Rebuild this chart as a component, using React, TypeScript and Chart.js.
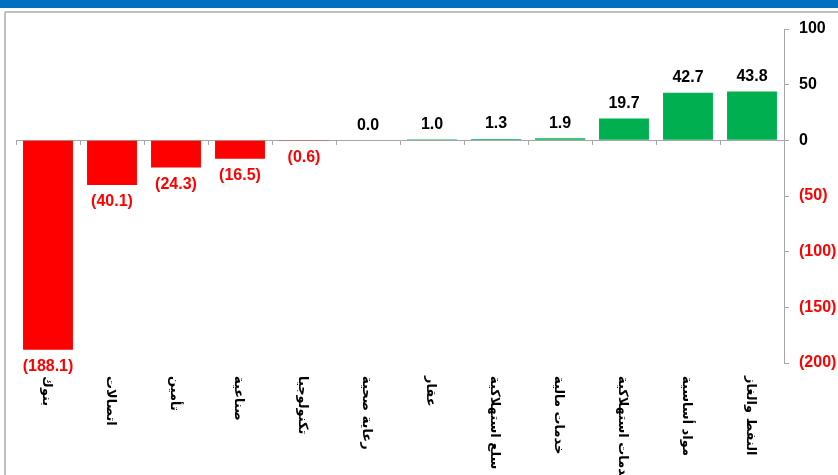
import React, { useEffect, useRef } from "react";
import { Chart, registerables } from "chart.js";

Chart.register(...registerables);

const categories = [
  "بنوك",
  "اتصالات",
  "تأمين",
  "صناعية",
  "تكنولوجيا",
  "رعاية صحية",
  "عقار",
  "سلع استهلاكية",
  "خدمات مالية",
  "خدمات استهلاكية",
  "مواد أساسية",
  "النفط والغاز",
];
const values = [-188.1, -40.1, -24.3, -16.5, -0.6, 0.0, 1.0, 1.3, 1.9, 19.7, 42.7, 43.8];
const yMin = -200;
const yMax = 100;
const yStep = 50;

const RED = "#FF0000";
const GREEN = "#00B050";
const GRAY = "#A6A6A6";

function fmt(v: number) {
  return v < 0 ? `(${Math.abs(v).toFixed(1)})` : v.toFixed(1);
}

const framePlugin = {
  id: "frame",
  beforeDraw(chart: any) {
    const ctx = chart.ctx;
    ctx.save();
    ctx.fillStyle = "#ffffff";
    ctx.fillRect(0, 0, chart.width, chart.height);
    ctx.fillStyle = "#0070C0";
    ctx.fillRect(0, 0, chart.width, 8);
    ctx.strokeStyle = "#BFBFBF";
    ctx.lineWidth = 2;
    ctx.beginPath();
    ctx.moveTo(5, 12);
    ctx.lineTo(chart.width, 12);
    ctx.moveTo(5, 12);
    ctx.lineTo(5, chart.height);
    ctx.stroke();
    ctx.restore();
  },
};

const labelPlugin = {
  id: "labels",
  afterDatasetsDraw(chart: any) {
    const ctx = chart.ctx;
    const meta = chart.getDatasetMeta(0);
    ctx.save();
    ctx.font = "bold 16px 'Liberation Sans', Arial, sans-serif";
    ctx.textAlign = "center";
    meta.data.forEach((bar: any, i: number) => {
      const v = values[i];
      if (v < 0) {
        ctx.fillStyle = RED;
        ctx.textBaseline = "top";
        ctx.fillText(fmt(v), bar.x, Math.max(bar.y, bar.base) + 9);
      } else {
        ctx.fillStyle = "#000000";
        ctx.textBaseline = "bottom";
        ctx.fillText(fmt(v), bar.x, Math.min(bar.y, bar.base) - 7);
      }
    });
    // category labels, rotated
    const xs = chart.scales.x;
    ctx.fillStyle = "#000000";
    ctx.font = "bold 13px 'DejaVu Sans', sans-serif";
    categories.forEach((c, i) => {
      const x = xs.getPixelForTick(i);
      ctx.save();
      ctx.translate(x - 2, 376);
      ctx.rotate(Math.PI / 2);
      ctx.textAlign = "left";
      ctx.textBaseline = "middle";
      ctx.fillText(c, 0, 0);
      ctx.restore();
    });
    ctx.restore();
  },
};

export default function App() {
  const ref = useRef<HTMLCanvasElement | null>(null);
  useEffect(() => {
    if (!ref.current) return;
    const chart = new Chart(ref.current, {
      type: "bar",
      data: {
        labels: categories,
        datasets: [
          {
            data: values,
            backgroundColor: values.map((v) => (v < 0 ? RED : GREEN)),
            barPercentage: 0.78,
            categoryPercentage: 1,
          },
        ],
      },
      options: {
        animation: false,
        responsive: false,
        layout: { padding: { left: 16, top: 29, bottom: 112, right: 0 } },
        plugins: { legend: { display: false }, tooltip: { enabled: false } },
        scales: {
          x: {
            type: "category",
            position: { y: 0 } as any,
            offset: true,
            grid: {
              offset: true,
              drawOnChartArea: false,
              drawTicks: true,
              tickLength: 4,
              color: GRAY,
            },
            border: { display: true, color: GRAY, width: 1 },
            ticks: { display: false },
          },
          y: {
            position: "right",
            min: yMin,
            max: yMax,
            afterFit(scale: any) {
              scale.width = 54;
            },
            grid: {
              drawOnChartArea: false,
              drawTicks: true,
              tickLength: 5,
              color: GRAY,
            },
            border: { display: true, color: GRAY, width: 1 },
            ticks: {
              stepSize: yStep,
              padding: 10,
              font: { family: "'Liberation Sans', Arial, sans-serif", size: 16, weight: "bold" },
              color: (c: any) => (c.tick && c.tick.value < 0 ? RED : "#000000"),
              callback: (v: any) => (Number(v) < 0 ? `(${Math.abs(Number(v))})` : `${v}`),
            },
          },
        },
      },
      plugins: [framePlugin, labelPlugin],
    });
    return () => chart.destroy();
  }, []);
  return (
    <div style={{ position: "absolute", left: 0, top: 0, width: 838, height: 475, background: "#fff" }}>
      <canvas ref={ref} width={838} height={475} style={{ display: "block", width: 838, height: 475 }} />
    </div>
  );
}
